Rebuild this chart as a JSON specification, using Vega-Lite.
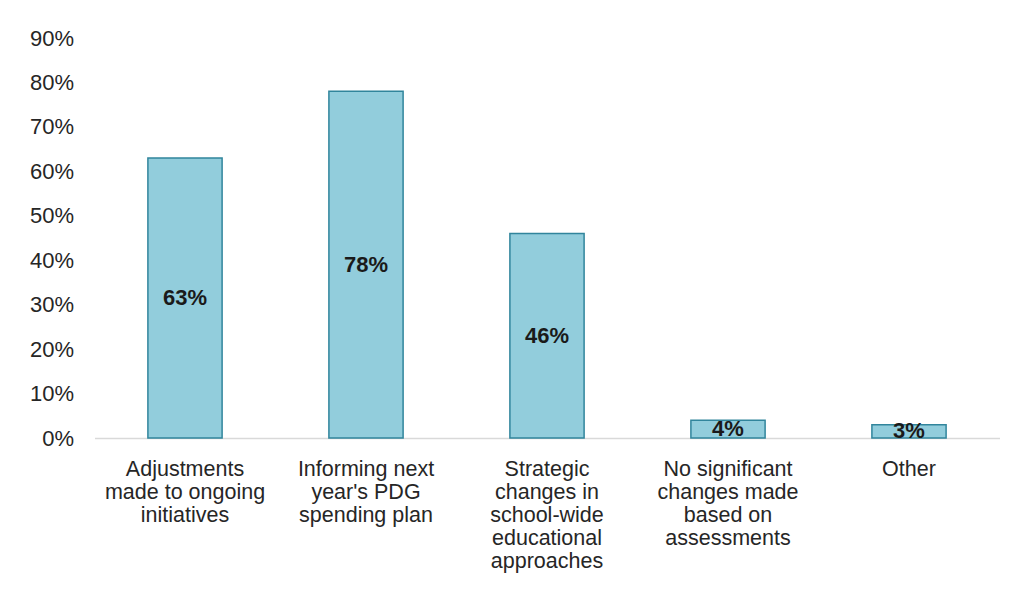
{
  "$schema": "https://vega.github.io/schema/vega-lite/v6.json",
  "width": 905,
  "height": 400,
  "autosize": {"type": "none"},
  "padding": {"left": 94.5, "top": 38, "right": 16.5, "bottom": 157},
  "background": "white",
  "config": {
    "view": {"stroke": null},
    "font": "Liberation Sans"
  },
  "data": {
    "values": [
      {"category": "Adjustments made to ongoing initiatives", "share": 0.63},
      {"category": "Informing next year's PDG spending plan", "share": 0.78},
      {"category": "Strategic changes in school-wide educational approaches", "share": 0.46},
      {"category": "No significant changes made based on assessments", "share": 0.04},
      {"category": "Other", "share": 0.03}
    ]
  },
  "encoding": {
    "x": {
      "field": "category",
      "type": "nominal",
      "sort": null,
      "scale": {"paddingInner": 0.59, "paddingOuter": 0.295},
      "axis": {
        "title": null,
        "labelAngle": 0,
        "labelLimit": 0,
        "ticks": false,
        "domainColor": "#d9d9d9",
        "domainWidth": 1.5,
        "labelFont": "Liberation Sans",
        "labelFontSize": 21.5,
        "labelColor": "#262626",
        "labelLineHeight": 23,
        "labelBaseline": "alphabetic",
        "labelPadding": 37,
        "labelExpr": "({'Adjustments made to ongoing initiatives': ['Adjustments', 'made to ongoing', 'initiatives'], \"Informing next year's PDG spending plan\": ['Informing next', \"year's PDG\", 'spending plan'], 'Strategic changes in school-wide educational approaches': ['Strategic', 'changes in', 'school-wide', 'educational', 'approaches'], 'No significant changes made based on assessments': ['No significant', 'changes made', 'based on', 'assessments'], 'Other': ['Other']})[datum.label]"
      }
    }
  },
  "resolve": {"scale": {"y": "independent"}, "axis": {"y": "independent"}},
  "layer": [
    {
      "mark": {"type": "bar", "fill": "#92cddc", "stroke": "#31859c", "strokeWidth": 1.5},
      "encoding": {
        "y": {
          "field": "share",
          "type": "quantitative",
          "scale": {"domain": [0, 0.9]},
          "axis": {
            "title": null,
            "format": ".0%",
            "values": [0, 0.1, 0.2, 0.3, 0.4, 0.5, 0.6, 0.7, 0.8, 0.9],
            "grid": false,
            "domain": false,
            "ticks": false,
            "labelPadding": 21,
            "labelFont": "Liberation Sans",
            "labelFontSize": 22,
            "labelColor": "#262626"
          }
        }
      }
    },
    {
      "mark": {"type": "text", "fontWeight": "bold", "fontSize": 22, "color": "#1a1a1a", "baseline": "middle"},
      "encoding": {
        "y": {"field": "share", "type": "quantitative", "scale": {"domain": [0, 1.8]}, "axis": null},
        "text": {"field": "share", "type": "quantitative", "format": ".0%"}
      }
    }
  ]
}
